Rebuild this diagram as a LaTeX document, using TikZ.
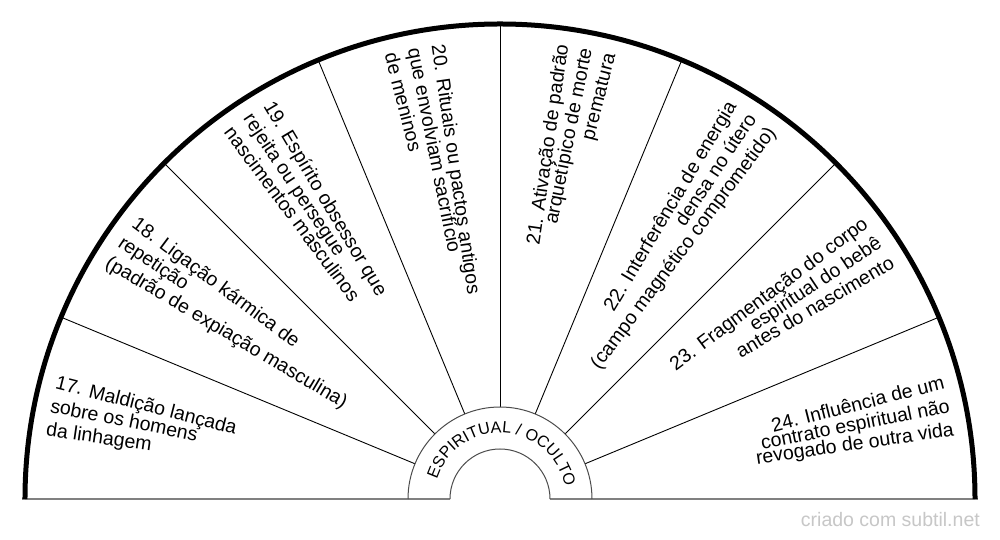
\documentclass[tikz,border=0pt]{standalone}
\usepackage{fontspec}
\setmainfont{Liberation Sans}
\usetikzlibrary{decorations.text}
\newcommand\LeftText[5]{%
  \node[lbl,anchor=mid west,rotate={#1-3-180}] (#2a) at ({#1-3}:\tr) {#3};
  \node[lbl,anchor=mid west,rotate={#1-180}] (#2b) at ({#1}:\tr) {#4};
  \node[lbl,anchor=mid west,rotate={#1+3-180}] (#2c) at ({#1+3}:\tr) {#5};
}
\newcommand\RightText[5]{%
  \node[lbl,anchor=mid east,rotate={#1+3}] (#2a) at ({#1+3}:\tr) {#3};
  \node[lbl,anchor=mid east,rotate={#1}] (#2b) at ({#1}:\tr) {#4};
  \node[lbl,anchor=mid east,rotate={#1-3}] (#2c) at ({#1-3}:\tr) {#5};
}
\def\tr{459}
\begin{document}
\begin{tikzpicture}[x=1pt,y=1pt,
  lbl/.style={font=\fontsize{19.5}{20}\selectfont, inner sep=0pt, text=black},
  divider/.style={line width=0.9pt, black},
  ringline/.style={line width=1pt, black!70},
  baseline/.style={line width=2pt, black!50},
  outerarc/.style={line width=5pt, black}]
\useasboundingbox (-500,-41) rectangle (500,499);
\fill[white] (-500,-41) rectangle (500,499);
% base line
\draw[baseline] (-478,0) -- (-50,0);
\draw[baseline] (50,0) -- (478,0);
% dividers
\foreach \a in {22.5,45,67.5,90,112.5,135,157.5}
  \draw[divider] (\a:92) -- (\a:475);
% ring
\draw[ringline] (92,0) arc[start angle=0,end angle=180,radius=92];
\draw[ringline] (50,0) arc[start angle=0,end angle=180,radius=50];
% outer arc
\draw[outerarc] (475,0) arc[start angle=0,end angle=180,radius=475];
% ring text
\path[decorate, decoration={text along path, text align=center,
  text={|\fontsize{16.2}{17}\selectfont|ESPIRITUAL / OCULTO}}]
  (166.5:66) arc[start angle=166.5,end angle=6.5,radius=66];
% sector texts
\LeftText{168.75}{t17}{17. Maldição lançada}{sobre os homens}{da linhagem}
\LeftText{146.25}{t18}{18. Ligação kármica de}{repetição}{(padrão de expiação masculina)}
\LeftText{123.75}{t19}{19. Espírito obsessor que}{rejeita ou persegue}{nascimentos masculinos}
\LeftText{101.25}{t20}{20. Rituais ou pactos antigos}{que envolviam sacrifício}{de meninos}
\RightText{78.75}{t21}{21. Ativação de padrão}{arquetípico de morte}{prematura}
\RightText{56.25}{t22}{22. Interferência de energia}{densa no útero}{(campo magnético comprometido)}
\RightText{33.75}{t23}{23. Fragmentação do corpo}{espiritual do bebê}{antes do nascimento}
\RightText{11.25}{t24}{24. Influência de um}{contrato espiritual não}{revogado de outra vida}
% watermark
\node[anchor=base east, inner sep=0pt, text=black!22, font=\fontsize{19.5}{20}\selectfont] (wm) at (480,-28) {criado com subtil.net};
\end{tikzpicture}
\end{document}
